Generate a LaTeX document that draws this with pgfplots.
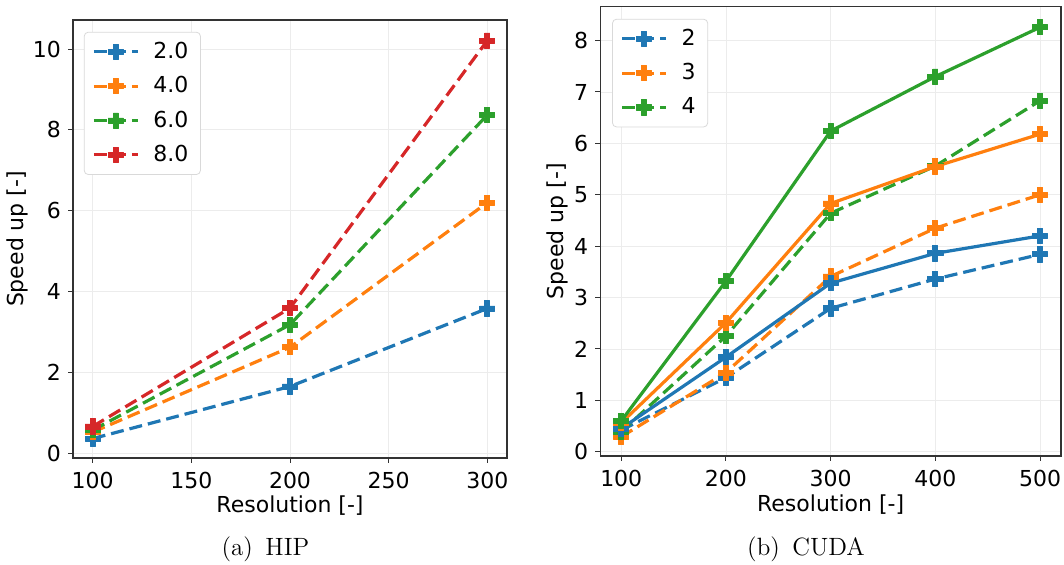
\documentclass[border=0pt]{standalone}
\usepackage{fontspec}
\usepackage{pgfplots}
\pgfplotsset{compat=1.18}
\newfontfamily\dejavu{DejaVu Sans}

\definecolor{tabblue}{HTML}{1F77B4}
\definecolor{taborange}{HTML}{FF7F0E}
\definecolor{tabgreen}{HTML}{2CA02C}
\definecolor{tabred}{HTML}{D62728}

% filled plus marker, like matplotlib 'P'
\pgfdeclareplotmark{P}{%
  \pgfmathsetlengthmacro\Pa{\pgfplotmarksize}%
  \pgfmathsetlengthmacro\Pb{\pgfplotmarksize/3}%
  \pgfpathmoveto{\pgfpoint{-\Pb}{-\Pa}}%
  \pgfpathlineto{\pgfpoint{\Pb}{-\Pa}}%
  \pgfpathlineto{\pgfpoint{\Pb}{-\Pb}}%
  \pgfpathlineto{\pgfpoint{\Pa}{-\Pb}}%
  \pgfpathlineto{\pgfpoint{\Pa}{\Pb}}%
  \pgfpathlineto{\pgfpoint{\Pb}{\Pb}}%
  \pgfpathlineto{\pgfpoint{\Pb}{\Pa}}%
  \pgfpathlineto{\pgfpoint{-\Pb}{\Pa}}%
  \pgfpathlineto{\pgfpoint{-\Pb}{\Pb}}%
  \pgfpathlineto{\pgfpoint{-\Pa}{\Pb}}%
  \pgfpathlineto{\pgfpoint{-\Pa}{-\Pb}}%
  \pgfpathlineto{\pgfpoint{-\Pb}{-\Pb}}%
  \pgfpathclose
  \pgfusepathqfillstroke}

\pgfplotsset{
  speed/.style={
    scale only axis, anchor=south west,
    axis line style={black!80, line width=0.6pt},
    tick style={black!80, line width=0.5pt},
    tick align=outside, major tick length=2.5pt,
    xtick pos=lower, ytick pos=left,
    grid=major, major grid style={gray!15, line width=0.4pt},
    tick label style={font=\dejavu\fontsize{11}{13}\selectfont},
    xticklabel style={yshift=-1pt},
    label style={font=\dejavu\fontsize{11}{13}\selectfont},
    /pgf/number format/assume math mode=true,
    legend cell align=left,
    legend style={font=\dejavu\fontsize{11}{13}\selectfont,
      draw=black!15, rounded corners=2pt, row sep=3.5pt,
      inner xsep=4pt, inner ysep=3pt, anchor=north west,
      /tikz/every odd column/.append style={column sep=5pt}},
    legend image code/.code={
      \draw[mark repeat=2, mark phase=2] plot coordinates {(0pt,0pt)(11pt,0pt)(22pt,0pt)};},
  },
  ser/.style={color=#1, line width=1.6pt, mark=P, mark size=3.8pt,
    mark options={solid, line width=0.4pt, line join=round}},
  dash/.style={dash pattern=on 6.5pt off 3pt},
}

\pgfplotstableread{
res  a    b    c    d
100  0.36 0.52 0.57 0.66
200  1.65 2.62 3.18 3.59
300  3.58 6.20 8.37 10.21
}\hip

\pgfplotstableread{
res  da   db   dc   sa   sb   sc
100  0.42 0.29 0.39 0.45 0.56 0.60
200  1.44 1.54 2.25 1.84 2.51 3.32
300  2.79 3.41 4.64 3.28 4.83 6.24
400  3.36 4.35 5.56 3.86 5.55 7.30
500  3.84 5.00 6.83 4.20 6.18 8.26
}\cuda

\begin{document}
\begin{tikzpicture}
\path[use as bounding box] (0,0) rectangle (532pt,282.5pt);

\begin{axis}[speed,
  at={(36.5pt,53.5pt)}, width=217pt, height=219pt,
  xmin=90, xmax=310, ymin=-0.12, ymax=10.72,
  xtick={100,150,...,300}, ytick={0,2,...,10},
  xlabel={Resolution [-]}, ylabel={Speed up [-]},
  x label style={at={(axis description cs:0.5,-0.108)}, anchor=center},
  y label style={at={(axis description cs:-0.127,0.5)}, anchor=center},
  legend style={at={(axis description cs:0.025,0.973)}},
]
\addplot[ser=tabblue, dash] table[x=res, y=a] {\hip};
\addplot[ser=taborange, dash] table[x=res, y=b] {\hip};
\addplot[ser=tabgreen, dash] table[x=res, y=c] {\hip};
\addplot[ser=tabred, dash] table[x=res, y=d] {\hip};
\legend{2.0, 4.0, 6.0, 8.0}
\end{axis}

\begin{axis}[speed,
  at={(300.15pt,54.5pt)}, width=230.35pt, height=224.65pt,
  xmin=80, xmax=520, ymin=-0.084, ymax=8.66,
  xtick={100,200,...,500}, ytick={0,1,...,8},
  xlabel={Resolution [-]}, ylabel={Speed up [-]},
  x label style={at={(axis description cs:0.5,-0.108)}, anchor=center},
  y label style={at={(axis description cs:-0.092,0.5)}, anchor=center},
  legend style={at={(axis description cs:0.0256,0.973)}},
]
\addplot[ser=tabblue, dash] table[x=res, y=da] {\cuda};
\addplot[ser=taborange, dash] table[x=res, y=db] {\cuda};
\addplot[ser=tabgreen, dash] table[x=res, y=dc] {\cuda};
\addplot[ser=tabblue, forget plot] table[x=res, y=sa] {\cuda};
\addplot[ser=taborange, forget plot] table[x=res, y=sb] {\cuda};
\addplot[ser=tabgreen, forget plot] table[x=res, y=sc] {\cuda};
\legend{2, 3, 4}
\end{axis}

\node[font=\fontsize{12.5}{15}\selectfont] at (132.75pt,8pt) {(a)\enspace HIP};
\node[font=\fontsize{12.5}{15}\selectfont] at (403pt,8pt) {(b)\enspace CUDA};
\end{tikzpicture}
\end{document}
